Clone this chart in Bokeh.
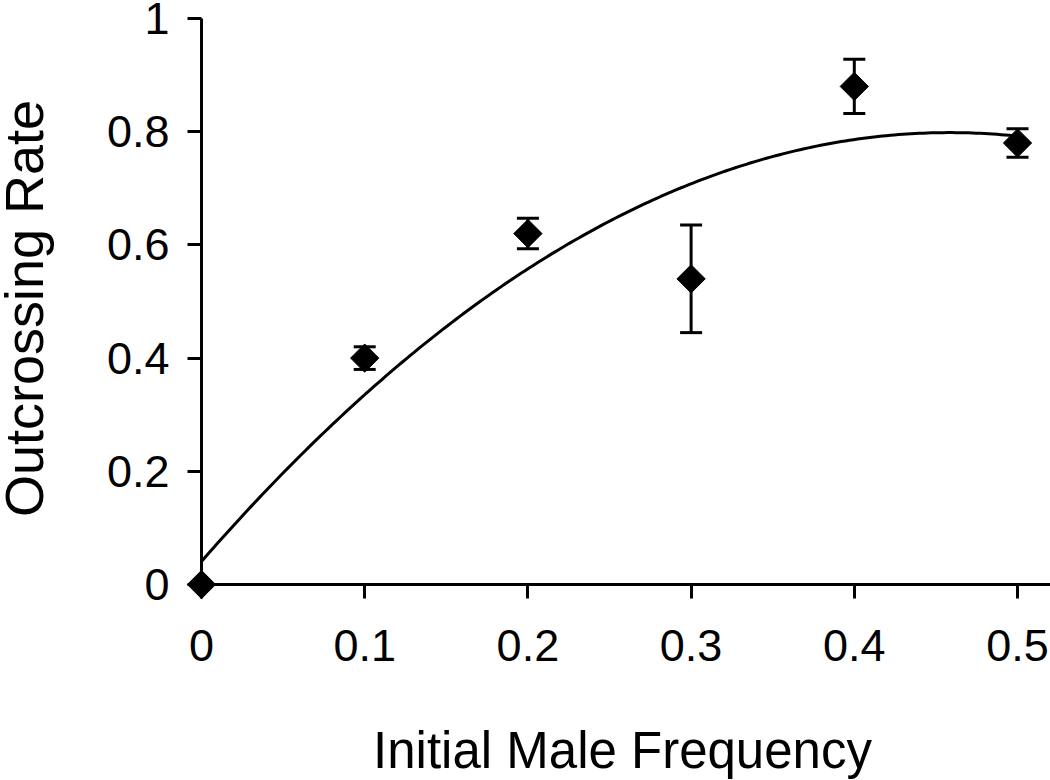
import numpy as np
from bokeh.plotting import figure
from bokeh.models import (Range1d, FixedTicker, CustomJSTickFormatter, Whisker,
                          ColumnDataSource, TeeHead, Label)
from bokeh.embed import file_html
from bokeh.resources import INLINE

male_freq = [0.0, 0.1, 0.2, 0.3, 0.4, 0.5]
outcrossing = [0.0, 0.40, 0.62, 0.54, 0.88, 0.78]
err = [0.0, 0.02, 0.027, 0.095, 0.048, 0.025]
x_ticks = [0, 0.1, 0.2, 0.3, 0.4, 0.5]
y_ticks = [0, 0.2, 0.4, 0.6, 0.8, 1]
x_title = "Initial Male Frequency"
y_title = "Outcrossing Rate"

FONT = "Liberation Sans"
W, H = 1050, 780
X0_PX, X_SCALE = 201, 1632     # canvas px of x=0, px per unit
Y0_PX, Y_SCALE = 584, 566      # canvas px of y=0 (from top), px per unit
X_START, X_END = -X0_PX / X_SCALE, (W - X0_PX) / X_SCALE
Y_START, Y_END = -(H - Y0_PX) / Y_SCALE, Y0_PX / Y_SCALE


def dx(px):
    return (px - X0_PX) / X_SCALE


def dy(py):
    return (Y0_PX - py) / Y_SCALE


# quadratic trendline fitted to the data points
coef = np.polyfit(male_freq, outcrossing, 2)
xf = np.linspace(min(male_freq), max(male_freq), 200)
yf = np.polyval(coef, xf)

p = figure(width=W, height=H, output_backend="svg", toolbar_location=None,
           x_range=Range1d(X_START, X_END), y_range=Range1d(Y_START, Y_END),
           min_border_left=0, min_border_right=0, min_border_top=0,
           min_border_bottom=0)
p.outline_line_color = None
p.grid.visible = False
p.background_fill_color = "white"
p.border_fill_color = "white"

for ax in (p.xaxis[0], p.yaxis[0]):
    ax.fixed_location = 0
    ax.axis_line_width = 3
    ax.axis_line_color = "black"
    ax.major_tick_line_width = 3
    ax.major_tick_line_color = "black"
    ax.major_tick_in = 0
    ax.major_tick_out = 14
    ax.minor_tick_line_color = None
    ax.major_label_text_font = FONT
    ax.major_label_text_font_size = "45px"
    ax.major_label_text_color = "black"
    ax.formatter = CustomJSTickFormatter(code="return String(tick);")

p.xaxis[0].ticker = FixedTicker(ticks=x_ticks)
p.yaxis[0].ticker = FixedTicker(ticks=y_ticks)
p.xaxis[0].bounds = (0, X_END)
p.yaxis[0].bounds = (0, 1)
p.xaxis[0].major_label_standoff = 31
p.yaxis[0].major_label_standoff = 18

p.add_layout(Label(x=dx(622), y=dy(750), text=x_title, text_font=FONT,
                   text_font_size="51px", text_color="black",
                   text_align="center", text_baseline="alphabetic"))
p.add_layout(Label(x=dx(23), y=dy(308), text=y_title, text_font=FONT,
                   text_font_size="54px", text_color="black", angle=np.pi / 2,
                   text_align="center", text_baseline="alphabetic"))

p.line(xf, yf, line_color="black", line_width=3)

src = ColumnDataSource(dict(
    x=[a for a, e in zip(male_freq, err) if e > 0],
    lower=[b - e for b, e in zip(outcrossing, err) if e > 0],
    upper=[b + e for b, e in zip(outcrossing, err) if e > 0],
))
w = Whisker(source=src, base="x", lower="lower", upper="upper",
            line_color="black", line_width=3,
            upper_head=TeeHead(size=22, line_color="black", line_width=3),
            lower_head=TeeHead(size=22, line_color="black", line_width=3))
p.add_layout(w)

p.scatter(male_freq, outcrossing, marker="square", size=20, angle=np.pi / 4,
          fill_color="black", line_color="black", line_width=1)

open("out.html", "w").write(file_html(p, INLINE))
